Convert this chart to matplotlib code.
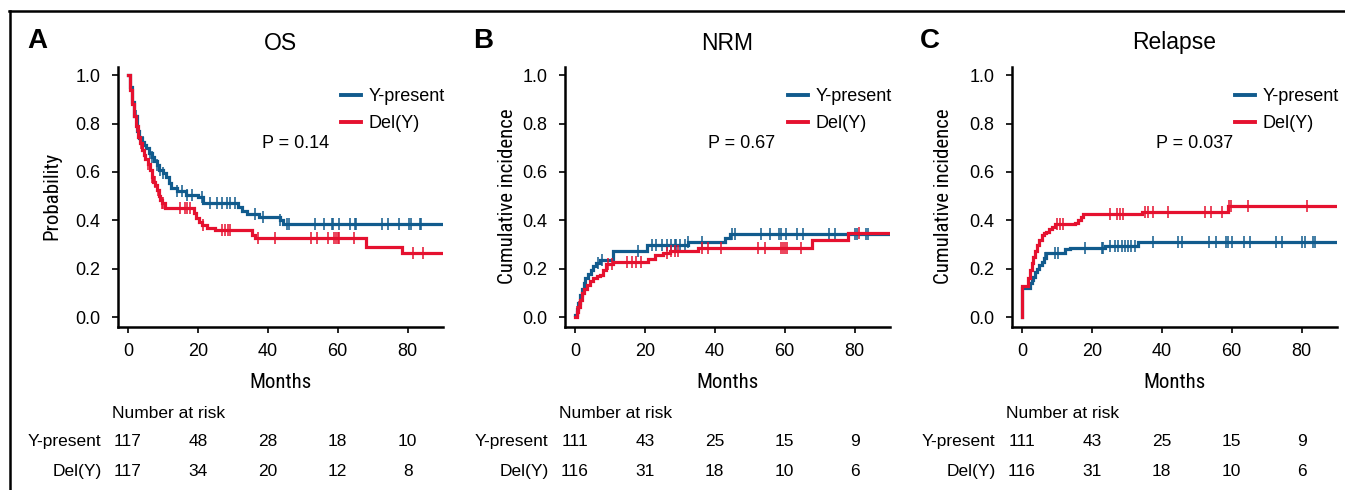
import numpy as np
import matplotlib
matplotlib.use("Agg")
import matplotlib.pyplot as plt
from matplotlib import font_manager
from matplotlib.lines import Line2D
import matplotlib.transforms as mtransforms

# ---------------- data ----------------
groups = ["Y-present", "Del(Y)"]
titles = ["OS", "NRM", "Relapse"]
panel_letters = ["A", "B", "C"]
ylabels = ["Probability", "Cumulative incidence", "Cumulative incidence"]
p_values = ["P = 0.14", "P = 0.67", "P = 0.037"]
xticks = [0, 20, 40, 60, 80]
yticks = [0.0, 0.2, 0.4, 0.6, 0.8, 1.0]

# OS
os_yp_t = [0, 0.6, 1.2, 1.8, 2.5, 3.2, 3.9, 4.5, 5.2, 6.0, 6.8, 7.5, 8.2, 9.0, 10.0, 11.0, 11.6, 12.2, 14.0,
           16.5, 20.0, 21.6, 31.5, 32.5, 34.0, 37.5, 43.5, 44.3]
os_yp_v = [1.0, 0.95, 0.89, 0.83, 0.77, 0.74, 0.725, 0.71, 0.70, 0.68, 0.66, 0.645, 0.63, 0.61, 0.595, 0.58,
           0.555, 0.535, 0.52, 0.505, 0.497, 0.47, 0.455, 0.44, 0.425, 0.413, 0.40, 0.385]
os_yp_cens = [2.3, 4.4, 6.3, 6.8, 8.2, 9.2, 10.1, 14.0, 15.4, 16.8, 18.3, 21.1, 23.5, 25.4, 26.9, 28.3, 29.2,
              30.7, 36.2, 38.5, 43.6, 45.5, 46.1, 53.6, 56.0, 58.4, 58.8, 60.3, 63.6, 65.0, 65.3, 72.7, 74.3,
              77.5, 80.3, 81.0, 83.5, 83.9]
os_dy_t = [0, 0.6, 1.2, 1.8, 2.4, 3.0, 3.5, 4.0, 4.5, 5.0, 5.8, 6.3, 6.8, 7.3, 7.8, 8.2, 8.8, 9.2, 9.7, 10.5,
           18.8, 19.5, 20.3, 21.1, 22.5, 24.9, 35.4, 36.4, 68.0, 78.4]
os_dy_v = [1.0, 0.94, 0.88, 0.83, 0.79, 0.745, 0.72, 0.69, 0.67, 0.655, 0.635, 0.61, 0.58, 0.56, 0.545, 0.525,
           0.50, 0.485, 0.47, 0.452, 0.43, 0.41, 0.395, 0.38, 0.37, 0.358, 0.34, 0.325, 0.29, 0.263]
os_dy_cens = [2.5, 3.6, 4.9, 5.8, 6.8, 7.7, 8.7, 9.7, 10.1, 14.9, 16.3, 16.8, 17.8, 21.6, 26.8, 27.8, 28.7,
              29.2, 37.3, 42.1, 52.3, 54.2, 57.1, 59.0, 59.5, 60.0, 60.5, 64.8, 81.6, 84.4]

# NRM
nrm_yp_t = [0, 0.5, 1.0, 1.5, 2.0, 2.5, 3.0, 3.8, 4.5, 5.2, 6.0, 7.1, 10.9, 20.5, 32.4, 43.0, 44.3]
nrm_yp_v = [0.01, 0.035, 0.06, 0.09, 0.115, 0.14, 0.16, 0.18, 0.195, 0.21, 0.222, 0.236, 0.274, 0.298, 0.311,
            0.327, 0.343]
nrm_yp_cens = [6.7, 7.6, 18.1, 21.9, 23.1, 24.8, 26.2, 27.6, 28.6, 29.0, 30.0, 31.4, 32.4, 36.2, 44.8, 45.7,
               53.3, 55.7, 58.4, 59.0, 60.3, 63.5, 65.2, 72.7, 74.3, 80.0, 80.7, 83.3, 83.8]
nrm_dy_t = [0, 0.5, 0.95, 1.4, 1.9, 2.6, 3.3, 4.2, 5.2, 6.2, 7.1, 8.1, 9.0, 10.9, 21.0, 22.9, 25.2, 27.1, 35.2,
            67.9, 78.0]
nrm_dy_v = [0.0, 0.02, 0.04, 0.07, 0.098, 0.115, 0.132, 0.148, 0.16, 0.168, 0.174, 0.194, 0.219, 0.228, 0.242,
            0.256, 0.266, 0.274, 0.286, 0.318, 0.348]
nrm_dy_cens = [0.5, 1.2, 9.5, 10.5, 14.8, 16.2, 17.6, 19.0, 26.2, 27.6, 28.6, 29.5, 36.2, 38.1, 41.9, 52.4,
               54.3, 59.0, 59.5, 60.0, 60.7, 64.8, 81.4]

# Relapse
rel_yp_t = [0, 0, 2.3, 2.8, 3.2, 3.7, 4.2, 4.9, 5.6, 6.3, 7.0, 12.3, 13.7, 23.7, 33.2]
rel_yp_v = [0, 0.12, 0.14, 0.155, 0.167, 0.185, 0.20, 0.215, 0.228, 0.245, 0.263, 0.28, 0.286, 0.295, 0.309]
rel_yp_cens = [6.6, 9.4, 10.4, 18.0, 22.8, 23.2, 25.1, 26.6, 27.5, 28.5, 29.4, 30.4, 31.3, 32.3, 37.5, 44.7,
               45.9, 53.5, 55.6, 58.3, 58.9, 60.2, 63.4, 65.1, 72.8, 74.5, 80.2, 80.9, 83.2, 83.7]
rel_dy_t = [0, 0, 1.8, 2.3, 2.8, 3.2, 3.7, 4.2, 4.9, 5.6, 6.3, 7.0, 7.7, 8.5, 9.4, 15.1, 16.1, 16.8, 17.5,
            34.2, 58.9]
rel_dy_v = [0, 0.128, 0.16, 0.194, 0.225, 0.25, 0.275, 0.30, 0.32, 0.339, 0.346, 0.353, 0.363, 0.373, 0.384,
            0.39, 0.40, 0.415, 0.426, 0.435, 0.458]
rel_dy_cens = [9.9, 10.9, 11.8, 25.1, 27.1, 28.0, 29.0, 35.1, 36.1, 37.5, 41.8, 52.3, 54.2, 57.1, 59.2, 59.9,
               64.7, 81.5]

# Number at risk
risk_os_yp = [117, 48, 28, 18, 10]
risk_os_dy = [117, 34, 20, 12, 8]
risk_nrm_yp = [111, 43, 25, 15, 9]
risk_nrm_dy = [116, 31, 18, 10, 6]
risk_rel_yp = [111, 43, 25, 15, 9]
risk_rel_dy = [116, 31, 18, 10, 6]

# ---------------- style ----------------
W, H = 1345, 490
BLUE = "#115B8D"
RED = "#E5112F"
entries = font_manager.fontManager.ttflist
available = {f.name for f in entries}
BASE = "Liberation Sans" if "Liberation Sans" in available else "DejaVu Sans"

narrow_kw = None
for cand in ["Liberation Sans Narrow", "Roboto Condensed", "Open Sans Condensed", "Noto Sans Condensed",
             "DejaVu Sans Condensed", "Arial Narrow"]:
    if cand in available:
        narrow_kw = dict(fontfamily=cand, fontsize=15)
        break
if narrow_kw is None:
    cond = [f for f in entries if str(f.stretch) in ("condensed", "semi-condensed", "extra-condensed")
            or (isinstance(f.stretch, int) and f.stretch < 500)]
    if cond:
        narrow_kw = dict(fontfamily=cond[0].name, fontstretch=cond[0].stretch, fontsize=14.5)
    else:
        narrow_kw = dict(fontfamily=BASE, fontsize=13)

plt.rcParams["font.family"] = [BASE, "DejaVu Sans"]

fig = plt.figure(figsize=(W / 100, H / 100), dpi=100)


def fx(x):
    return x / W


def fy(y):
    return 1 - y / H


# figure border (top and left)
fig.add_artist(Line2D([fx(9.5), fx(9.5)], [fy(11.5), 0], transform=fig.transFigure, color="black", lw=1.8))
fig.add_artist(Line2D([fx(8.6), 1], [fy(11.5), fy(11.5)], transform=fig.transFigure, color="black", lw=1.8))

panels = [
    dict(curves=[(os_yp_t, os_yp_v, os_yp_cens), (os_dy_t, os_dy_v, os_dy_cens)],
         risk=[risk_os_yp, risk_os_dy], left=117.5, letter_x=27),
    dict(curves=[(nrm_yp_t, nrm_yp_v, nrm_yp_cens), (nrm_dy_t, nrm_dy_v, nrm_dy_cens)],
         risk=[risk_nrm_yp, risk_nrm_dy], left=564.5, letter_x=473),
    dict(curves=[(rel_yp_t, rel_yp_v, rel_yp_cens), (rel_dy_t, rel_dy_v, rel_dy_cens)],
         risk=[risk_rel_yp, risk_rel_dy], left=1011.5, letter_x=920),
]
ylabel_right = [61, 517, 953]

XMIN, XMAX = -3, 90
YMIN, YMAX = -0.041, 1.034
ax_w_px = (XMAX - XMIN) * 3.495
top_px, bot_px = 67, 327
colors = [BLUE, RED]

for i, p in enumerate(panels):
    left = p["left"]
    ax = fig.add_axes([fx(left), fy(bot_px), ax_w_px / W, (bot_px - top_px) / H])
    ax.set_xlim(XMIN, XMAX)
    ax.set_ylim(YMIN, YMAX)
    for s in ["top", "right"]:
        ax.spines[s].set_visible(False)
    for s in ["left", "bottom"]:
        ax.spines[s].set_linewidth(1.8)
    ax.set_xticks(xticks)
    ax.set_yticks(yticks)
    ax.set_yticklabels([f"{v:.1f}" for v in yticks])
    ax.tick_params(axis="both", direction="out", length=4.5, width=1.2, labelsize=13, colors="black")
    ax.tick_params(axis="x", pad=7)
    ax.tick_params(axis="y", pad=8)

    for (t, v, cens), col, name in zip(p["curves"], colors, groups):
        t = np.asarray(t, float)
        v = np.asarray(v, float)
        tt = np.append(t, XMAX)
        vv = np.append(v, v[-1])
        ax.step(tt, vv, where="post", color=col, lw=2.3, label=name, solid_joinstyle="miter")
        c = np.asarray(cens, float)
        idx = np.searchsorted(t, c, side="right") - 1
        ax.plot(c, v[idx], linestyle="none", marker="|", markersize=8, mew=1.1, color=col)

    # legend
    handles = [Line2D([], [], color=c, lw=2.8) for c in colors]
    ax.legend(handles, groups, loc="upper left", frameon=False, fontsize=13,
              bbox_to_anchor=(fx(left + 223), fy(88)), bbox_transform=fig.transFigure,
              borderpad=0, borderaxespad=0, handlelength=1.15, handletextpad=0.4,
              labelspacing=0.56)

    # P value
    fig.text(fx(left + 144), fy(143), p_values[i], fontsize=13, ha="left", va="center")

    # title and letter
    fig.text(fx(left + ax_w_px / 2), fy(43), titles[i], fontsize=16.5, ha="center", va="center")
    fig.text(fx(p["letter_x"]), fy(41), panel_letters[i], fontsize=20, fontweight="bold",
             ha="left", va="center")

    # axis labels
    ax.set_xlabel("Months", **narrow_kw)
    ax.xaxis.set_label_coords(0.5, -(373 - bot_px) / (bot_px - top_px))
    ax.set_ylabel(ylabels[i], **narrow_kw)
    ax.yaxis.set_label_coords(-(left - ylabel_right[i]) / ax_w_px,
                              1 - (196 - top_px) / (bot_px - top_px))

    # number at risk
    trans = mtransforms.blended_transform_factory(ax.transData, fig.transFigure)
    fig.text(fx(left - 5.5), fy(413), "Number at risk", fontsize=12.5, ha="left", va="center")
    for name, vals, ypx in zip(groups, p["risk"], [441, 471]):
        fig.text(fx(left - 16), fy(ypx), name, fontsize=12.5, ha="right", va="center")
        for xt, n in zip(xticks, vals):
            ax.text(xt, fy(ypx), str(n), transform=trans, fontsize=12.5, ha="center", va="center",
                    clip_on=False)

fig.savefig("out.png", dpi=100)
